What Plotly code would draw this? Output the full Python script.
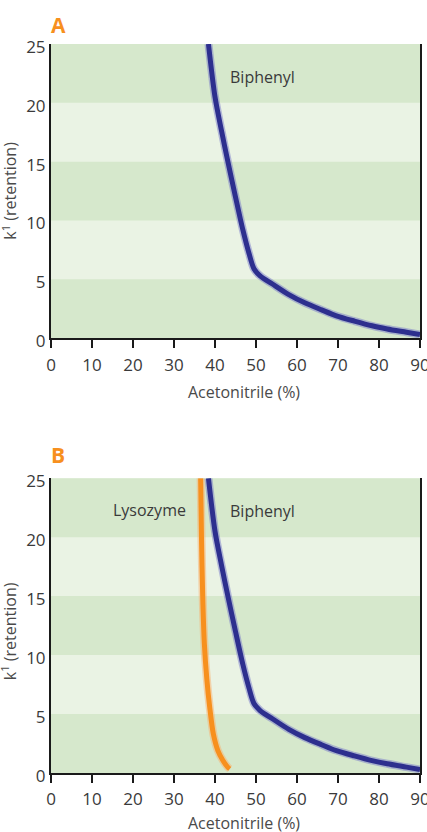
import plotly.graph_objects as go

# ---- data ----
acetonitrile_biphenyl = [38.4, 40.0, 41.6, 43.2, 45.0, 46.8, 48.3, 49.5, 51.0, 54.0, 58.0, 61.9, 66.0, 69.6, 74.0, 78.3, 82.0, 86.7, 90.0]
k_biphenyl = [25.0, 20.5, 17.6, 14.9, 12.0, 9.2, 7.2, 5.9, 5.3, 4.6, 3.7, 3.0, 2.4, 1.9, 1.45, 1.05, 0.78, 0.5, 0.3]

acetonitrile_lysozyme = [36.5, 36.7, 37.0, 37.4, 38.0, 38.7, 39.6, 40.7, 41.9, 43.1, 43.6]
k_lysozyme = [25.0, 20.0, 15.0, 11.0, 8.0, 5.6, 3.3, 1.9, 1.08, 0.5, 0.35]

x_ticks = [0, 10, 20, 30, 40, 50, 60, 70, 80, 90]
y_ticks = [0, 5, 10, 15, 20, 25]
light_bands = [(5, 10), (15, 20)]

panel_labels = ["A", "B"]
x_title = "Acetonitrile (%)"
y_title = "k<sup>1</sup> (retention)"

BLUE = "#2d2f8e"
BLUE_HALO = "rgba(110,110,200,0.45)"
ORANGE = "#f7901e"
ORANGE_HALO = "rgba(250,175,110,0.5)"
DARK_BAND = "#d6e8cc"
LIGHT_BAND = "#eaf3e4"
FONT = "Open Sans"

fig = go.Figure()

def add_line(x, y, color, halo, xa, ya):
    fig.add_trace(go.Scatter(x=x, y=y, mode="lines", xaxis=xa, yaxis=ya,
                             line=dict(color=halo, width=8, shape="spline", smoothing=0.8),
                             hoverinfo="skip", showlegend=False))
    fig.add_trace(go.Scatter(x=x, y=y, mode="lines", xaxis=xa, yaxis=ya,
                             line=dict(color=color, width=5, shape="spline", smoothing=0.8),
                             showlegend=False))

# Panel A
add_line(acetonitrile_biphenyl, k_biphenyl, BLUE, BLUE_HALO, "x", "y")
# Panel B
add_line(acetonitrile_lysozyme, k_lysozyme, ORANGE, ORANGE_HALO, "x2", "y2")
add_line(acetonitrile_biphenyl, k_biphenyl, BLUE, BLUE_HALO, "x2", "y2")

shapes = []
for xr, yr in [("x", "y"), ("x2", "y2")]:
    for lo, hi in light_bands:
        shapes.append(dict(type="rect", xref=f"{xr} domain", yref=yr, x0=0, x1=1, y0=lo, y1=hi,
                           fillcolor=LIGHT_BAND, line=dict(width=0), layer="below"))

axis_common = dict(
    showgrid=False, zeroline=False, showline=True, linecolor="#1a1a1a", linewidth=2,
    tickfont=dict(family=FONT, size=17, color="#3a3a3a"), automargin=False,
    ticklabeloverflow="allow",
)
xaxis_style = dict(axis_common, range=[0, 90], tickvals=x_ticks, ticks="outside",
                   ticklen=8, tickwidth=2, tickcolor="#1a1a1a", fixedrange=True,
                   ticklabelstandoff=2)
yaxis_style = dict(axis_common, range=[0, 25], tickvals=y_ticks, ticks="", mirror=True,
                   fixedrange=True, ticklabelshift=3)

fig.update_layout(
    width=427, height=832,
    margin=dict(l=51, r=7, t=44, b=59),
    paper_bgcolor="white", plot_bgcolor=DARK_BAND,
    font=dict(family=FONT),
    xaxis=dict(xaxis_style, anchor="y", domain=[0, 1]),
    yaxis=dict(yaxis_style, anchor="x", domain=[0.5965, 1.0]),
    xaxis2=dict(xaxis_style, anchor="y2", domain=[0, 1]),
    yaxis2=dict(yaxis_style, anchor="x2", domain=[0.0, 0.4044]),
    shapes=shapes,
)

ann = []
for i, (xr, yr) in enumerate([("x", "y"), ("x2", "y2")]):
    ann.append(dict(text=f"<b>{panel_labels[i]}</b>", xref=f"{xr} domain", yref=f"{yr} domain",
                    x=-0.005, y=1.065 if i == 0 else 1.078, xanchor="left", yanchor="middle",
                    showarrow=False, font=dict(family=FONT, size=21, color=ORANGE)))
    ann.append(dict(text=x_title, xref=f"{xr} domain", yref=f"{yr} domain",
                    x=0.524, y=-0.184 if i == 0 else -0.171, xanchor="center", yanchor="middle",
                    showarrow=False, font=dict(family=FONT, size=16, color="#4a4a4a")))
    ann.append(dict(text=y_title, xref=f"{xr} domain", yref=f"{yr} domain",
                    x=-0.112, y=0.5 if i == 0 else 0.48, xanchor="center", yanchor="middle",
                    textangle=-90, showarrow=False, font=dict(family=FONT, size=16, color="#4a4a4a")))
    ann.append(dict(text="Biphenyl", xref=xr, yref=yr, x=51.5, y=22.2,
                    xanchor="center", yanchor="middle", showarrow=False,
                    font=dict(family=FONT, size=16, color="#3a3a3a")))
ann.append(dict(text="Lysozyme", xref="x2", yref="y2", x=24.1, y=22.3,
                xanchor="center", yanchor="middle", showarrow=False,
                font=dict(family=FONT, size=16, color="#3a3a3a")))
fig.update_layout(annotations=ann)

fig.write_html("out.html")
